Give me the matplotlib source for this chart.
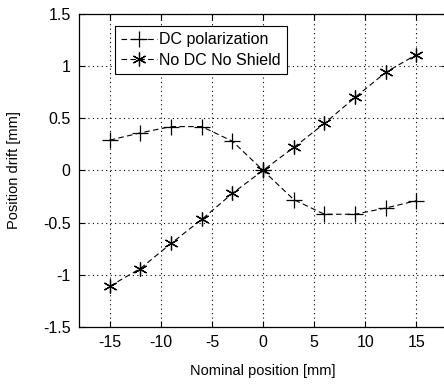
import matplotlib.pyplot as plt
import numpy as np

plt.rcParams['font.family'] = ['Liberation Sans', 'DejaVu Sans']

# nominal positions (mm) and measured drift for both setups
nominal = [-15, -12, -9, -6, -3, 0, 3, 6, 9, 12, 15]
dc_polarization = [0.29, 0.36, 0.42, 0.42, 0.28, 0.0, -0.28, -0.42, -0.42, -0.36, -0.29]
no_dc_no_shield = [-1.11, -0.94, -0.70, -0.47, -0.22, 0.0, 0.22, 0.45, 0.70, 0.94, 1.11]

xticks = [-15, -10, -5, 0, 5, 10, 15]
yticks = [-1.5, -1, -0.5, 0, 0.5, 1, 1.5]
ytick_labels = ['-1.5', '-1', '-0.5', '0', '0.5', '1', '1.5']

fig = plt.figure(figsize=(4.44, 3.86), dpi=100)
ax = fig.add_axes([0.178, 0.153, 0.829, 0.811])

ax.plot(nominal, dc_polarization, color='black', linestyle='--', linewidth=0.8,
        marker='+', markersize=11, markeredgewidth=0.9, label='DC polarization',
        dashes=(5, 3))
ax.plot(nominal, no_dc_no_shield, color='black', linestyle='--', linewidth=0.8,
        marker=(6, 2, 0), markersize=10, markeredgewidth=0.9, label='No DC No Shield',
        dashes=(5, 3))

ax.set_xlim(-18, 18)
ax.set_ylim(-1.5, 1.5)
ax.set_xticks(xticks)
ax.set_xticklabels([str(t) for t in xticks])
ax.set_yticks(yticks)
ax.set_yticklabels(ytick_labels)
ax.tick_params(direction='in', length=4, labelsize=11.5, top=True, right=True, pad=6)
ax.grid(True, color='black', linestyle=(0, (1, 3)), linewidth=0.8)

for s in ax.spines.values():
    s.set_color('black')
    s.set_linewidth(0.9)

ax.set_xlabel('Nominal position [mm]', fontsize=10.5, labelpad=10)
ax.set_ylabel('Position drift [mm]', fontsize=10.5, labelpad=16)

leg = ax.legend(loc='upper left', bbox_to_anchor=(0.098, 0.962), borderaxespad=0,
                fontsize=11.5, fancybox=False, framealpha=1, edgecolor='black',
                handlelength=2.2, handletextpad=0.15, borderpad=0.4, labelspacing=0.35)
leg.get_frame().set_linewidth(0.8)

fig.savefig('out.png', dpi=100)
